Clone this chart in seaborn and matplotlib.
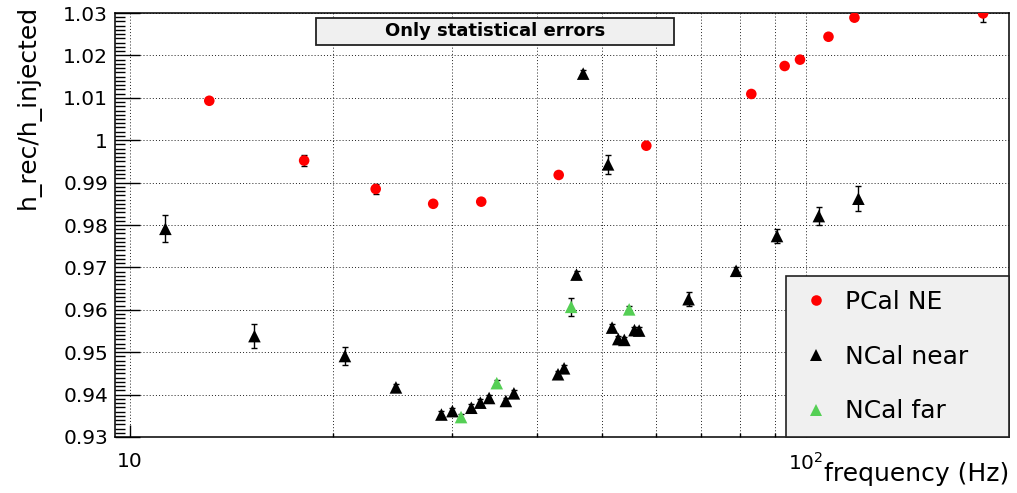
import matplotlib
matplotlib.use("Agg")
import matplotlib.pyplot as plt
import numpy as np
import pandas as pd
import seaborn as sns
from matplotlib.patches import Rectangle
from matplotlib.ticker import FixedLocator, FixedFormatter, MultipleLocator, NullFormatter

# ---- data: ratio of reconstructed to injected strain vs. line frequency ----
pcal_freq = [13.1, 18.1, 23.1, 28.1, 33.1, 43.1, 58.1, 83.1, 93.1, 98.1, 108.1, 118.1, 183.1]
pcal_ratio = [1.0093, 0.9952, 0.9885, 0.9850, 0.9855, 0.9918, 0.9987,
              1.0109, 1.0175, 1.0190, 1.0244, 1.0289, 1.0299]
pcal_err = [0.0004, 0.0013, 0.0012, 0.0005, 0.0005, 0.0005, 0.0005,
            0.0005, 0.0005, 0.0005, 0.0005, 0.0006, 0.0020]

near_freq = [11.28, 15.28, 20.8, 24.75, 28.9, 30.0, 32.0, 33.0, 34.0, 36.0, 37.0,
             43.0, 43.9, 45.8, 46.85, 51.0, 51.7, 52.8, 53.9, 55.8, 56.7,
             67.1, 78.9, 90.7, 104.6, 119.7]
near_ratio = [0.9791, 0.9538, 0.9491, 0.9417, 0.9353, 0.9361, 0.9369, 0.9381, 0.9392,
              0.9385, 0.9403, 0.9448, 0.9462, 0.9683, 1.0157, 0.9943, 0.9558, 0.9531,
              0.9529, 0.9552, 0.9551, 0.9625, 0.9692, 0.9774, 0.9821, 0.9862]
near_err = [0.0032, 0.0028, 0.0021, 0.0008, 0.0008, 0.0008, 0.0008, 0.0008, 0.0008,
            0.0008, 0.0008, 0.0008, 0.0008, 0.0008, 0.0008, 0.0022, 0.0008, 0.0008,
            0.0008, 0.0008, 0.0008, 0.0017, 0.0008, 0.0017, 0.0022, 0.0029]

far_freq = [30.9, 34.9, 44.97, 54.8]
far_ratio = [0.9347, 0.9427, 0.9607, 0.9601]
far_err = [0.0008, 0.0008, 0.0021, 0.0008]

series_names = ["PCal NE", "NCal near", "NCal far"]
series_colors = ["#ff0000", "#000000", "#55cf55"]
series_markers = ["o", "^", "^"]
series_sizes = [58, 82, 82]

sns.set_style("ticks")
plt.rcParams["font.family"] = ["DejaVu Sans"]
plt.rcParams["mathtext.fontset"] = "dejavusans"
for key in ("text.color", "axes.labelcolor", "xtick.color", "ytick.color"):
    plt.rcParams[key] = "black"

df = pd.concat([
    pd.DataFrame({"frequency": f, "ratio": r, "err": e, "source": n})
    for n, f, r, e in zip(series_names,
                          [pcal_freq, near_freq, far_freq],
                          [pcal_ratio, near_ratio, far_ratio],
                          [pcal_err, near_err, far_err])
], ignore_index=True)

W, H = 1017, 493
fig = plt.figure(figsize=(W / 100, H / 100), dpi=100)
ax = fig.add_axes([115 / W, 1 - 437 / H, 894 / W, 424 / H])
ax.set_xscale("log")
ax.set_xlim(9.5, 200)
ax.set_ylim(0.93, 1.03)

# fine dotted grid underneath everything
ax.set_axisbelow(True)
grid_style = dict(color="#202020", linestyle=(0, (1, 2.2)), linewidth=0.7)
ax.grid(True, which="major", axis="both", **grid_style)
ax.grid(True, which="minor", axis="x", **grid_style)

# statistical error bars
for name in series_names:
    g = df[df.source == name]
    ax.errorbar(g.frequency, g.ratio, yerr=g.err, fmt="none", ecolor="black",
                elinewidth=1.0, capsize=2.5, capthick=1.0, zorder=2)

sns.scatterplot(data=df, x="frequency", y="ratio",
                hue="source", style="source", size="source",
                hue_order=series_names, style_order=series_names, size_order=series_names,
                palette=dict(zip(series_names, series_colors)),
                markers=dict(zip(series_names, series_markers)),
                sizes=dict(zip(series_names, series_sizes)),
                linewidth=0, ax=ax, zorder=3)

# axes ticks
ax.xaxis.set_major_locator(FixedLocator([10, 100]))
ax.xaxis.set_major_formatter(FixedFormatter(["10", r"$10^{2}$"]))
ax.xaxis.set_minor_locator(FixedLocator([20, 30, 40, 50, 60, 70, 80, 90]))
ax.xaxis.set_minor_formatter(NullFormatter())
ax.yaxis.set_major_locator(MultipleLocator(0.01))
ax.yaxis.set_minor_locator(MultipleLocator(0.001))
ax.yaxis.set_major_formatter(plt.FuncFormatter(
    lambda v, p: "1" if abs(v - 1) < 1e-9 else f"{v:.2f}"))

ax.tick_params(axis="y", which="major", direction="in", length=18, width=1.0, labelsize=14.5, pad=5,
               left=True, right=False, colors="black")
ax.tick_params(axis="y", which="minor", direction="in", length=7, width=1.0, left=True, right=False,
               colors="black")
ax.tick_params(axis="x", which="major", direction="in", length=8.5, width=1.0, labelsize=14.5, pad=11,
               bottom=True, top=False, colors="black")
ax.tick_params(axis="x", which="minor", direction="in", length=3, width=1.0, bottom=True, top=False,
               colors="black")
for sp in ax.spines.values():
    sp.set_color("black")
    sp.set_linewidth(1.1)

ax.set_xlabel("frequency (Hz)", fontsize=18, loc="right", color="black")
ax.xaxis.set_label_coords(1.0, -0.058)
ax.xaxis.label.set_va("top")
ax.set_ylabel("h_rec/h_injected", fontsize=18, loc="top", color="black")
ax.yaxis.set_label_coords(-0.083, 1.02)

# legend box in the lower right corner
handles, labels = ax.get_legend_handles_labels()
leg = ax.legend(handles, labels, loc="lower left", bbox_to_anchor=(0.7506, 0.0, 0.2494, 0.375),
                mode="expand", borderaxespad=0, fontsize=18, frameon=True, fancybox=False,
                facecolor="#f0f0f0", edgecolor="#222222", framealpha=1,
                labelspacing=1.23, borderpad=0.55, handlelength=1.3, handletextpad=0.5)
leg.get_frame().set_linewidth(1.2)
leg.set_zorder(5)
for t in leg.get_texts():
    t.set_color("black")

# title pave
fig.patches.append(Rectangle((316 / W, 1 - 44.5 / H), 358 / W, 27 / H, transform=fig.transFigure,
                             facecolor="#f0f0f0", edgecolor="#222222", linewidth=1.3, zorder=5))
fig.text(495 / W, 1 - 31 / H, "Only statistical errors", fontsize=13, fontweight="bold",
         color="black", ha="center", va="center", zorder=6)

fig.savefig("out.png", dpi=100)
